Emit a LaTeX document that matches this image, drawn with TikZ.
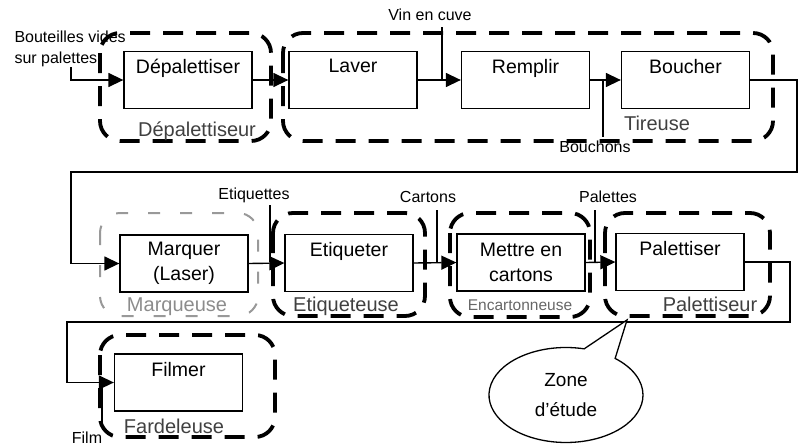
\documentclass[tikz,border=0pt]{standalone}
\usepackage{fontspec}
\setmainfont{Liberation Sans}
\usetikzlibrary{arrows.meta,shapes.callouts}
\begin{document}
\begin{tikzpicture}[x=1pt,y=-1pt,
 box/.style={draw,line width=1.3pt,minimum width=128pt,minimum height=57pt,inner sep=0pt,font=\fontsize{19.5}{25}\selectfont,align=center},
 toptext/.style={label={[anchor=north,yshift=-5pt,font=\fontsize{19.5}{22}\selectfont]north:#1}},
 grp/.style={draw,line width=3.8pt,dash pattern=on 20pt off 13pt,rounded corners=20pt},
 grpfaint/.style={draw=black!40,line width=2pt,dash pattern=on 12pt off 20pt,rounded corners=20pt},
 glabel/.style={font=\fontsize{20}{22}\selectfont,text=black!75},
 inlabel/.style={font=\fontsize{16}{21}\selectfont},
 flow/.style={line width=1.4pt,-{Triangle[length=15pt,width=14pt]}},
 feed/.style={line width=1.4pt}]
\useasboundingbox (0,0) rectangle (805,447);

% groups
\draw[grp] (100,33) rectangle (271,141);
\draw[grp] (283,33) rectangle (773,141);
\draw[grpfaint] (100,213) rectangle (258,316);
\draw[grp] (273,213) rectangle (425,316);
\draw[grp] (450,213) rectangle (590,317);
\draw[grp] (605,213) rectangle (770,316);
\draw[grp] (100,335) rectangle (275,437);

% boxes
\node[box,fill=white,toptext=Dépalettiser] (dep) at (188,80) {};
\node[box,fill=white,toptext=Laver] (lav) at (353,80) {};
\node[box,fill=white,toptext=Remplir] (rem) at (525.5,80) {};
\node[box,fill=white,toptext=Boucher] (bou) at (685.5,80) {};
\node[box,fill=white] (mar) at (184,263.5) {Marquer\\(Laser)};
\node[box,fill=white,toptext=Etiqueter] (eti) at (349,263) {};
\node[box,fill=white] (met) at (521,262.5) {Mettre en\\cartons};
\node[box,fill=white,toptext=Palettiser] (pal) at (680,262) {};
\node[box,fill=white,toptext=Filmer] (fil) at (178.5,382.5) {};

% group labels
\node[glabel] (gdep) at (197,131) {Dépalettiseur};
\node[glabel] (gtir) at (657,123) {Tireuse};
\node[glabel,text=black!45] (gmar) at (177,307) {Marqueuse};
\node[glabel] (geti) at (346,306) {Etiqueteuse};
\node[glabel,font=\fontsize{15.5}{18}\selectfont,text=black!60] (genc) at (520,305) {Encartonneuse};
\node[glabel] (gpal) at (710,304) {Palettiseur};
\node[glabel] (gfar) at (174,426) {Fardeleuse};

% input labels
\node[inlabel,anchor=north west,align=left] (lbout) at (11,27) {Bouteilles vides\\sur palettes};
\node[inlabel] (lvin) at (430,15) {Vin en cuve};
\node[inlabel] (lbch) at (595,147) {Bouchons};
\node[inlabel] (leti) at (254,195) {Etiquettes};
\node[inlabel] (lcar) at (428,197) {Cartons};
\node[inlabel] (lpal) at (608,197) {Palettes};
\node[inlabel] (lfil) at (87,438) {Film};

% coordinates
\coordinate (in1) at (71,67);
\coordinate (vin1) at (442,27);
\coordinate (vin2) at (442,80);
\coordinate (bch1) at (603,80);
\coordinate (bch2) at (603,137);
\coordinate (r1) at (797,80);
\coordinate (r2) at (797,172);
\coordinate (r3) at (71,172);
\coordinate (eq1) at (270,205);
\coordinate (eq2) at (270,262);
\coordinate (ca1) at (437,210);
\coordinate (ca2) at (437,262);
\coordinate (pa1) at (595,210);
\coordinate (pa2) at (595,262);
\coordinate (s1) at (790,262);
\coordinate (s2) at (790,322);
\coordinate (s3) at (67,322);
\coordinate (fi1) at (102,423);
\coordinate (fi2) at (102,382.5);

% connectors
\draw[flow] (in1) |- (dep.west);
\draw[flow] (dep.east) -- (lav.west);
\draw[flow] (lav.east) -- (rem.west);
\draw[feed] (vin1) -- (vin2);
\draw[flow] (rem.east) -- (bou.west);
\draw[feed] (bch1) -- (bch2);
\draw[flow] (bou.east) -- (r1) -- (r2) -- (r3) |- (mar.west);
\draw[flow] (mar.east) -- (eti.west);
\draw[feed] (eq1) -- (eq2);
\draw[flow] (eti.east) -- (met.west);
\draw[feed] (ca1) -- (ca2);
\draw[flow] (met.east) -- (pal.west);
\draw[feed] (pa1) -- (pa2);
\draw[flow] (pal.east) -- (s1) -- (s2) -- (s3) |- (fil.west);
\draw[feed] (fi1) -- (fi2);

% callout
\node[ellipse callout,draw,line width=1.3pt,fill=white,minimum width=154pt,minimum height=95pt,
  callout absolute pointer={(627,320)},callout pointer arc=26,
  font=\fontsize{19}{30}\selectfont,align=center] (zone) at (566,395) {Zone\\d'étude};
\end{tikzpicture}
\end{document}
